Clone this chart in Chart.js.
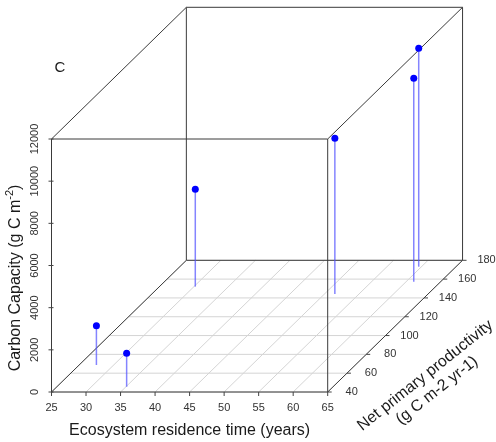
<!DOCTYPE html>
<html>
<head>
<meta charset="utf-8">
<script src="https://cdn.jsdelivr.net/npm/chart.js@4/dist/chart.umd.min.js"></script>
<style>
  html, body { margin: 0; padding: 0; background: #ffffff; }
  #contenedor { width: 496px; height: 442px; }
</style>
</head>
<body>
<div id="contenedor"><canvas id="grafico3d"></canvas></div>
<script>
// Valores (un punto por ecosistema)
const tiempoResidencia = [27.5, 35.1, 30.2, 51.5, 61.1, 59.6];      // años
const productividad    = [68.7, 45.6, 152, 144.2, 157.3, 173.2];    // g C m-2 yr-1
const capacidadCarbono = [1864, 1584, 4620, 7385, 9648, 10359];     // g C m-2

// Marcas de los ejes
const ticksX = [25, 30, 35, 40, 45, 50, 55, 60, 65];
const ticksY = [40, 60, 80, 100, 120, 140, 160, 180];
const ticksZ = [0, 2000, 4000, 6000, 8000, 10000, 12000];

const X_MIN = 25, X_MAX = 65;
const Y_MIN = 40, Y_MAX = 180;
const Z_MIN = 0,  Z_MAX = 12000;

// Parámetros de la vista (proyección oblicua como scatterplot3d)
const ORIGEN_PX = 51.5, ORIGEN_PY = 392;   // esquina frontal inferior izquierda
const PX_POR_ANIO = 6.905;                 // píxeles por año
const PX_POR_CARBONO = 0.021083;           // píxeles por g C m-2
const DESP_X = 0.1395;                     // desplazamiento en x por unidad de productividad
const DESP_Z = 44.62;                      // desplazamiento en z por unidad de productividad

// Proyecta un punto 3D al plano del gráfico
function proyectar(x, y, z) {
    return { x: x + (y - Y_MIN) * DESP_X, y: z + (y - Y_MIN) * DESP_Z };
}

// Límites de las escalas para que el lienzo completo sea el área del gráfico
const escalaXMin = X_MIN - ORIGEN_PX / PX_POR_ANIO;
const escalaXMax = escalaXMin + 496 / PX_POR_ANIO;
const escalaYMin = Z_MIN - (442 - ORIGEN_PY) / PX_POR_CARBONO;
const escalaYMax = Z_MIN + ORIGEN_PY / PX_POR_CARBONO;

function linea(p1, p2, color, ancho) {
    return {
        data: [proyectar(...p1), proyectar(...p2)],
        showLine: true,
        borderColor: color,
        borderWidth: ancho,
        pointRadius: 0,
        fill: false
    };
}

const datasets = [];

// Puntos (primero = se dibuja encima)
datasets.push({
    data: tiempoResidencia.map((x, i) => proyectar(x, productividad[i], capacidadCarbono[i])),
    backgroundColor: '#0000ff',
    borderWidth: 0,
    pointRadius: 3.5,
    showLine: false
});

// Líneas verticales (tipo "h") desde el suelo hasta cada punto
tiempoResidencia.forEach((x, i) => {
    datasets.push(linea([x, productividad[i], Z_MIN], [x, productividad[i], capacidadCarbono[i]], 'rgba(80,80,255,0.7)', 1.5));
});

// Aristas de la caja
const esquinas = [];
[X_MIN, X_MAX].forEach(x => [Y_MIN, Y_MAX].forEach(y => [Z_MIN, Z_MAX].forEach(z => esquinas.push([x, y, z]))));
esquinas.forEach((a, i) => {
    esquinas.forEach((b, j) => {
        if (j <= i) return;
        let distintos = 0;
        for (let k = 0; k < 3; k++) if (a[k] !== b[k]) distintos++;
        if (distintos === 1) datasets.push(linea(a, b, '#3a3a3a', 1));
    });
});

// Rejilla del suelo
ticksX.forEach(x => datasets.push(linea([x, Y_MIN, Z_MIN], [x, Y_MAX, Z_MIN], '#d4d4d4', 1)));
ticksY.forEach(y => datasets.push(linea([X_MIN, y, Z_MIN], [X_MAX, y, Z_MIN], '#d4d4d4', 1)));

// Plugin para marcas, etiquetas y títulos
const textos = {
    id: 'textos',
    afterDraw(chart) {
        const ctx = chart.ctx;
        const sx = chart.scales.x, sy = chart.scales.y;
        const px = (x, y, z) => {
            const p = proyectar(x, y, z);
            return [sx.getPixelForValue(p.x), sy.getPixelForValue(p.y)];
        };
        ctx.save();
        ctx.strokeStyle = '#444';
        ctx.lineWidth = 1;
        ctx.fillStyle = '#333';
        ctx.font = '11px "Liberation Sans", Arial, sans-serif';
        ctx.textAlign = 'center';
        ctx.textBaseline = 'middle';

        // Eje X
        ticksX.forEach(t => {
            const [a, b] = px(t, Y_MIN, Z_MIN);
            ctx.beginPath(); ctx.moveTo(a, b); ctx.lineTo(a, b + 4); ctx.stroke();
            ctx.fillText(String(t), a, b + 16);
        });
        // Eje Y (profundidad)
        ticksY.forEach(t => {
            const [a, b] = px(X_MAX, t, Z_MIN);
            ctx.beginPath(); ctx.moveTo(a, b); ctx.lineTo(a + 4, b); ctx.stroke();
            ctx.fillText(String(t), a + 24, b);
        });
        // Eje Z
        ticksZ.forEach(t => {
            const [a, b] = px(X_MIN, Y_MIN, t);
            ctx.beginPath(); ctx.moveTo(a - 3, b); ctx.lineTo(a + 2, b); ctx.stroke();
            ctx.save();
            ctx.translate(a - 17, b);
            ctx.rotate(-Math.PI / 2);
            ctx.fillText(String(t), 0, 0);
            ctx.restore();
        });

        ctx.fillStyle = '#1a1a1a';
        ctx.font = '16px "Liberation Sans", Arial, sans-serif';

        // Título eje X
        const [xa] = px((X_MIN + X_MAX) / 2, Y_MIN, Z_MIN);
        ctx.fillText('Ecosystem residence time (years)', xa, 431);

        // Título eje Z con superíndice
        ctx.save();
        ctx.translate(20, 278);
        ctx.rotate(-Math.PI / 2);
        ctx.textBaseline = 'alphabetic';
        ctx.textAlign = 'left';
        const parte1 = 'Carbon Capacity (g C m';
        const sup = '-2';
        const fin = ')';
        ctx.font = '16px "Liberation Sans", Arial, sans-serif';
        const w1 = ctx.measureText(parte1).width;
        const wf = ctx.measureText(fin).width;
        ctx.font = '11px "Liberation Sans", Arial, sans-serif';
        const ws = ctx.measureText(sup).width;
        let inicio = -(w1 + ws + wf) / 2;
        ctx.font = '16px "Liberation Sans", Arial, sans-serif';
        ctx.fillText(parte1, inicio, 0);
        ctx.font = '11px "Liberation Sans", Arial, sans-serif';
        ctx.fillText(sup, inicio + w1, -7);
        ctx.font = '16px "Liberation Sans", Arial, sans-serif';
        ctx.fillText(fin, inicio + w1 + ws, 0);
        ctx.restore();

        // Título eje Y (dos líneas, inclinado)
        const ang = -38.5 * Math.PI / 180;
        ctx.save();
        ctx.translate(428, 379);
        ctx.rotate(ang);
        ctx.textAlign = 'center';
        ctx.textBaseline = 'alphabetic';
        ctx.fillText('Net primary productivity', 0, 0);
        ctx.fillText('(g C m-2 yr-1)', 0, 19);
        ctx.restore();

        // Letra del panel
        ctx.font = '15px "Liberation Sans", Arial, sans-serif';
        ctx.textAlign = 'center';
        ctx.textBaseline = 'middle';
        ctx.fillText('C', 60, 68);
        ctx.restore();
    }
};

new Chart(document.getElementById('grafico3d').getContext('2d'), {
    type: 'scatter',
    data: { datasets: datasets },
    options: {
        responsive: true,
        maintainAspectRatio: false,
        animation: false,
        events: [],
        layout: { padding: 0, autoPadding: false },
        plugins: {
            legend: { display: false },
            tooltip: { enabled: false }
        },
        scales: {
            x: { type: 'linear', min: escalaXMin, max: escalaXMax, display: false },
            y: { type: 'linear', min: escalaYMin, max: escalaYMax, display: false }
        }
    },
    plugins: [textos]
});
</script>
</body>
</html>
